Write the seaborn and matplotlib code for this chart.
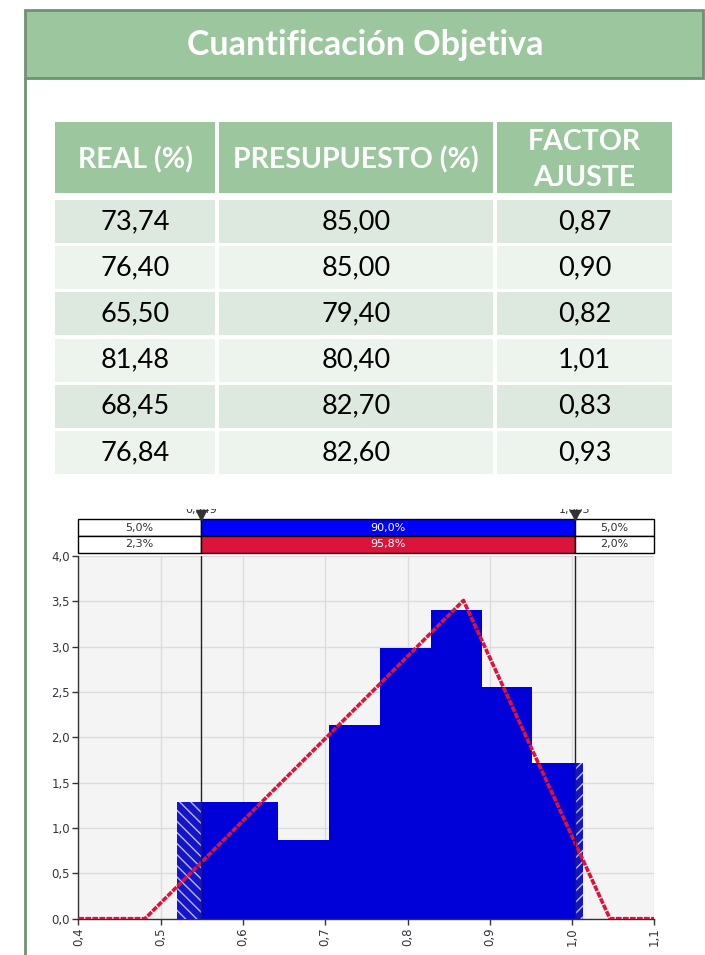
import matplotlib
matplotlib.use("Agg")
import matplotlib.pyplot as plt
from matplotlib.patches import Rectangle
from matplotlib.ticker import FuncFormatter, MultipleLocator
import numpy as np
import pandas as pd
import seaborn as sns

# table data
headers = ["REAL (%)", "PRESUPUESTO (%)", "FACTOR\nAJUSTE"]
real = [73.74, 76.40, 65.50, 81.48, 68.45, 76.84]
presupuesto = [85.00, 85.00, 79.40, 80.40, 82.70, 82.60]
factor = [0.87, 0.90, 0.82, 1.01, 0.83, 0.93]

# histogram (density)
bin_edges = [0.5196, 0.5813, 0.6431, 0.7048, 0.7666, 0.8283, 0.8900, 0.9518, 1.0135]
bin_heights = [1.284, 1.284, 0.865, 2.136, 2.982, 3.408, 2.559, 1.714]

# fitted triangular curve
curve_x = [0.40, 0.481, 0.868, 1.046, 1.10]
curve_y = [0.0, 0.0, 3.51, 0.0, 0.0]

# delimiters and strip percentages
limits = [0.549, 1.003]
limit_labels = ["0,549", "1,003"]
fit_pcts = ["5,0%", "90,0%", "5,0%"]
sim_pcts = ["2,3%", "95,8%", "2,0%"]

W, H = 705, 955
GREEN = "#9BC69E"
GREEN_DARK = "#6F9272"
ROW_DARK = "#DDE8DE"
ROW_LIGHT = "#EDF4EE"
BLUE = "#0000FF"
BAR = "#0000D8"
CRIMSON = "#DC143C"

sns.set_style("white")
plt.rcParams["font.family"] = ["Lato", "DejaVu Sans"]

fig = plt.figure(figsize=(W / 100, H / 100), dpi=100)


def box(x0, y0, x1, y1, **kw):
    fig.add_artist(Rectangle((x0 / W, 1 - y1 / H), (x1 - x0) / W, (y1 - y0) / H,
                             transform=fig.transFigure, **kw))


def txt(x, y, s, **kw):
    fig.text(x / W, 1 - y / H, s, ha="center", va="center", **kw)


def comma(v, nd=2):
    return f"{v:.{nd}f}".replace(".", ",")


# page frame + title
fig.add_artist(plt.Line2D([25 / W, 25 / W], [0, 1 - 78 / H], transform=fig.transFigure,
                          color=GREEN_DARK, lw=2))
box(25, 10, 703, 78, facecolor=GREEN, edgecolor=GREEN_DARK, lw=2)
txt(365, 45, "Cuantificación Objetiva", color="white", fontsize=24.5, fontweight="bold")

# table
cols = [(55, 215), (219, 493), (497, 672)]
for x0, x1 in cols:
    box(x0, 122, x1, 193, facecolor=GREEN, lw=0)
for (x0, x1), h in zip(cols, headers):
    lines = h.split("\n")
    if len(lines) == 1:
        txt((x0 + x1) / 2, 160, h, color="white", fontsize=20.5, fontweight="bold")
    else:
        txt((x0 + x1) / 2, 142, lines[0], color="white", fontsize=20.5, fontweight="bold")
        txt((x0 + x1) / 2, 178, lines[1], color="white", fontsize=20.5, fontweight="bold")

df = pd.DataFrame({"real": real, "presupuesto": presupuesto, "factor": factor})
for i, row in df.iterrows():
    y0 = 200 + i * 46.2
    face = ROW_DARK if i % 2 == 0 else ROW_LIGHT
    vals = [comma(row["real"]), comma(row["presupuesto"]), comma(row["factor"])]
    for (x0, x1), v in zip(cols, vals):
        box(x0, y0, x1, y0 + 43, facecolor=face, lw=0)
        txt((x0 + x1) / 2, y0 + 21.5, v, color="black", fontsize=19.5)

# histogram axes
ax_l, ax_r, ax_t, ax_b = 78.3, 654.4, 556, 918.7
ax = fig.add_axes([ax_l / W, 1 - ax_b / H, (ax_r - ax_l) / W, (ax_b - ax_t) / H])
ax.set_facecolor("#F4F4F4")

centers = [(a + b) / 2 for a, b in zip(bin_edges[:-1], bin_edges[1:])]
sns.histplot(x=centers, weights=bin_heights, bins=bin_edges, stat="count",
             color=BAR, alpha=1, edgecolor="none", linewidth=0, ax=ax, zorder=2)

# hatched tails outside the delimiters
ax.add_patch(Rectangle((bin_edges[0], 0), limits[0] - bin_edges[0], bin_heights[0],
                       facecolor="#1414C8", edgecolor="#B8B8FF", hatch="\\\\\\", lw=0, zorder=3))
ax.add_patch(Rectangle((limits[1], 0), bin_edges[-1] - limits[1], bin_heights[-1],
                       facecolor="#1414C8", edgecolor="#B8B8FF", hatch="///", lw=0, zorder=3))

sns.lineplot(x=curve_x, y=curve_y, color=CRIMSON, lw=2.6, ax=ax, zorder=5,
             linestyle=(0, (1.6, 0.35)))

for lim in limits:
    ax.axvline(lim, color="#222222", lw=1, zorder=6)

ax.set_xlim(0.4, 1.1)
ax.set_ylim(0, 4)
ax.xaxis.set_major_locator(MultipleLocator(0.1))
ax.yaxis.set_major_locator(MultipleLocator(0.5))
ax.xaxis.set_major_formatter(FuncFormatter(lambda v, p: comma(v, 1)))
ax.yaxis.set_major_formatter(FuncFormatter(lambda v, p: comma(v, 1)))
ax.grid(True, color="#DCDCDC", lw=1, zorder=0)
ax.set_axisbelow(True)
for s in ["top", "right"]:
    ax.spines[s].set_visible(False)
for s in ["left", "bottom"]:
    ax.spines[s].set_color("#333333")
    ax.spines[s].set_linewidth(1)
ax.tick_params(axis="both", which="major", length=4, width=1, color="#333333",
               labelsize=8.5, labelcolor="#333344", direction="out",
               left=True, bottom=True, pad=2)
plt.setp(ax.get_xticklabels(), rotation=90, family="DejaVu Sans")
plt.setp(ax.get_yticklabels(), family="DejaVu Sans")
ax.set_xlabel("")
ax.set_ylabel("")

# delimiter strip above the chart
st = fig.add_axes([ax_l / W, 1 - 553 / H, (ax_r - ax_l) / W, 44 / H])
st.set_xlim(0.4, 1.1)
st.set_ylim(0, 44)
st.axis("off")
segs = [(0.4, limits[0]), (limits[0], limits[1]), (limits[1], 1.1)]
for row_y, pcts, mid in [(17, fit_pcts, BLUE), (0, sim_pcts, CRIMSON)]:
    for k, ((a, b), p) in enumerate(zip(segs, pcts)):
        face = mid if k == 1 else "white"
        st.add_patch(Rectangle((a, row_y), b - a, 17, facecolor=face,
                               edgecolor="black", lw=1, clip_on=False))
        st.text((a + b) / 2, row_y + 8.5, p, ha="center", va="center",
                fontsize=8, family="DejaVu Sans",
                color="white" if k == 1 else "#333333")
for lim, lab in zip(limits, limit_labels):
    st.plot([lim], [37.5], marker="v", color="#333333", markersize=7, clip_on=False)
    st.text(lim, 38, lab, ha="center", va="bottom", fontsize=8,
            family="DejaVu Sans", color="#333333", clip_on=True)

fig.savefig("out.png", dpi=100)
